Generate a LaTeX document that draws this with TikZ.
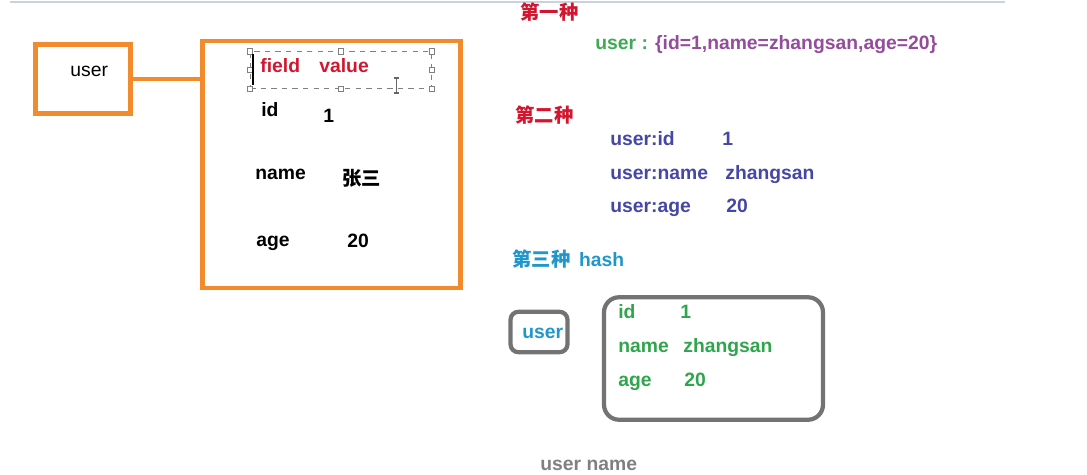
\documentclass[tikz,border=0pt]{standalone}
\usepackage{fontspec}
\setmainfont{Liberation Sans}
\newfontfamily\cjk{Noto Sans CJK SC}
\usetikzlibrary{positioning}

\definecolor{hlorange}{HTML}{F28A2E}
\definecolor{fieldred}{HTML}{D3162F}
\definecolor{kvgreen}{HTML}{3DAA55}
\definecolor{kvpurple}{HTML}{944C9C}
\definecolor{kvblue}{HTML}{4646A6}
\definecolor{hashblue}{HTML}{2096CC}
\definecolor{hashgreen}{HTML}{2FA54C}
\definecolor{framegray}{HTML}{737373}
\definecolor{toprule}{HTML}{C9D2E2}

\begin{document}
\begin{tikzpicture}[
  x=0.02cm, y=-0.02cm,
  font=\fontsize{11}{13}\selectfont\bfseries,
  obox/.style={draw=hlorange, line width=2.6pt, inner sep=0pt},
  gbox/.style={draw=framegray, line width=2.4pt, inner sep=0pt},
  txt/.style={anchor=base west, inner sep=0pt},
  handle/.style={draw=gray, fill=white, line width=0.4pt, minimum size=3pt, inner sep=0pt}
]
\useasboundingbox (0,0) rectangle (1087,475);
\draw[toprule, line width=1.5pt] (10,2) -- (1005,2);

% one key, one object
\node[obox, minimum width=1.90cm, minimum height=1.38cm] (userbox) at (83,79) {};
\node[txt, font=\fontsize{11}{13}\selectfont\mdseries] (userlbl) at (70,77) {user};
\node[obox, minimum width=5.16cm, minimum height=4.94cm] (objbox) at (331.5,164.5) {};
\draw[hlorange, line width=2.6pt] (userbox.east) -- (userbox.east -| objbox.west);

\node[draw=gray, dashed, line width=0.5pt, minimum width=3.63cm, minimum height=0.73cm, inner sep=0pt] (sel) at (341,70) {};
\foreach \a in {north west, north, north east, east, south east, south, south west, west}
  \node[handle] at (sel.\a) {};
\draw[black, line width=0.6pt] (253,54) -- (253,85);
\draw[gray!80!black, line width=0.6pt] (396.5,78) -- (396.5,93) (394,78) -- (399,78) (394,93) -- (399,93);
\node[txt, fieldred] (fld) at (260,73) {field};
\node[txt, fieldred] (val) at (319,73) {value};
\node[txt] (kid) at (261,117) {id};
\node[txt] (vid) at (323,123) {1};
\node[txt] (kname) at (255,180) {name};
\node[txt] (vname) at (342,186) {\cjk 张三};
\node[txt] (kage) at (256,247) {age};
\node[txt] (vage) at (347,248) {20};

% first way
\node[txt, fieldred] (way1) at (520,20) {\cjk 第一种};
\node[txt] (kv1) at (595,50) {\textcolor{kvgreen}{user :} \textcolor{kvpurple}{\{id=1,name=zhangsan,age=20\}}};

% second way
\node[txt, fieldred] (way2) at (515,123) {\cjk 第二种};
\node[txt, kvblue] (sk1) at (610,146) {user:id};
\node[txt, kvblue] (sv1) at (722,146) {1};
\node[txt, kvblue] (sk2) at (610,180) {user:name};
\node[txt, kvblue] (sv2) at (725,180) {zhangsan};
\node[txt, kvblue] (sk3) at (610,213) {user:age};
\node[txt, kvblue] (sv3) at (726,213) {20};

% third way
\node[txt, hashblue] (way3) at (512,267) {{\cjk 第三种}\hspace{0.45em}hash};
\node[gbox, rounded corners=0.16cm, minimum width=1.14cm, minimum height=0.81cm] (hkey) at (539,332) {};
\node[txt, hashblue] (hkeylbl) at (522,339) {user};
\node[gbox, rounded corners=0.3cm, minimum width=4.38cm, minimum height=2.45cm] (hbox) at (713.5,358.5) {};
\node[txt, hashgreen] (hk1) at (618,319) {id};
\node[txt, hashgreen] (hv1) at (680,319) {1};
\node[txt, hashgreen] (hk2) at (618,353) {name};
\node[txt, hashgreen] (hv2) at (683,353) {zhangsan};
\node[txt, hashgreen] (hk3) at (618,387) {age};
\node[txt, hashgreen] (hv3) at (684,387) {20};

\node[txt, gray] (usernm) at (540,470) {user name};
\end{tikzpicture}
\end{document}
